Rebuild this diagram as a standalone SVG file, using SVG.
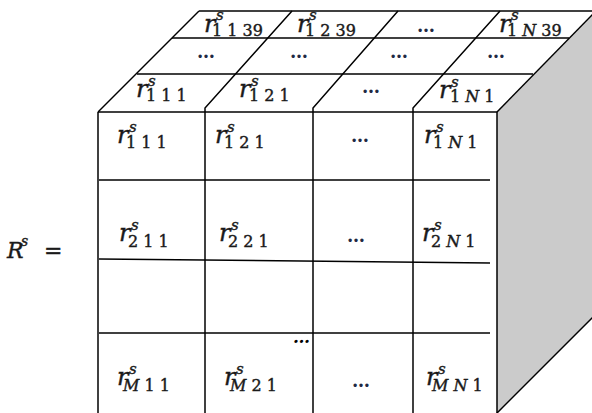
<svg xmlns="http://www.w3.org/2000/svg" width="592" height="413" viewBox="0 0 592 413">
<style>
.ln{stroke:#000;stroke-width:1.5;fill:none}
.r{font-family:"DejaVu Serif",serif;font-style:italic;font-size:24px;fill:#1a1a1a;stroke:#1a1a1a;stroke-width:0.4}
.s{font-family:"DejaVu Serif",serif;font-style:italic;font-size:15px;fill:#1a1a1a;stroke:#1a1a1a;stroke-width:0.4}
.sb{font-family:"DejaVu Serif",serif;font-size:16px;fill:#1a1a1a;stroke:#1a1a1a;stroke-width:0.4}
.i{font-style:italic}
.d{font-family:"DejaVu Serif",serif;font-size:18px;font-weight:bold;fill:#1f2a44}
</style>
<rect width="592" height="413" fill="#fff"/>
<g id="side-face">
<polygon points="497,112 593,14 593,318 497,413" fill="#cbcbcb"/>
<line class="ln" x1="497" y1="413" x2="593" y2="317"/>
</g>
<g id="connectors">
<line class="ln" x1="199" y1="11" x2="592" y2="11"/>
<line class="ln" x1="172" y1="38" x2="569" y2="38"/>
<line class="ln" x1="137" y1="74" x2="533" y2="74"/>
<line class="ln" x1="98" y1="112" x2="497" y2="112"/>
<line class="ln" x1="98" y1="112" x2="199" y2="11"/>
<line class="ln" x1="497" y1="112" x2="594" y2="13"/>
<path class="ln" d="M205 112 L205 108 L292 11"/>
<path class="ln" d="M313 112 L313 108 L398 11"/>
<path class="ln" d="M413 112 L413 108 L500 11"/>
<line class="ln" x1="98" y1="112" x2="98" y2="413"/>
<line class="ln" x1="205" y1="112" x2="205" y2="413"/>
<line class="ln" x1="313" y1="112" x2="313" y2="413"/>
<line class="ln" x1="413" y1="112" x2="413" y2="413"/>
<line class="ln" x1="497" y1="112" x2="497" y2="413"/>
<line class="ln" x1="99" y1="180" x2="490" y2="180"/>
<line class="ln" x1="99" y1="259" x2="490" y2="263"/>
<line class="ln" x1="99" y1="333" x2="490" y2="333"/>
</g>
<g id="label-R">
<text x="7" y="258" class="r" style="font-size:22px">R</text>
<text x="21" y="246" class="s" style="font-size:14px">s</text>
<text x="44" y="258" class="sb" style="font-size:22px">=</text>
</g>
<g id="top-r1139"><text class="r" x="204" y="32">r</text><text class="s" x="216" y="20">s</text><text class="sb" x="212" y="36">1 1 39</text></g>
<g id="top-r1239"><text class="r" x="297" y="32">r</text><text class="s" x="309" y="20">s</text><text class="sb" x="305" y="36">1 2 39</text></g>
<g id="top-dots1"><text class="d" x="417" y="32">…</text></g>
<g id="top-r1N39"><text class="r" x="499" y="32">r</text><text class="s" x="511" y="20">s</text><text class="sb" x="507" y="36">1 <tspan class="i">N</tspan> 39</text></g>
<g id="top-dots2"><text class="d" x="197" y="58">…</text></g>
<g id="top-dots3"><text class="d" x="290" y="58">…</text></g>
<g id="top-dots4"><text class="d" x="390" y="58">…</text></g>
<g id="top-dots5"><text class="d" x="487" y="58">…</text></g>
<g id="top-r111"><text class="r" x="136" y="97">r</text><text class="s" x="148" y="86">s</text><text class="sb" x="146" y="101">1 1 1</text></g>
<g id="top-r121"><text class="r" x="239" y="97">r</text><text class="s" x="251" y="86">s</text><text class="sb" x="249" y="101">1 2 1</text></g>
<g id="top-dots6"><text class="d" x="362" y="93">…</text></g>
<g id="top-r1N1"><text class="r" x="439" y="98">r</text><text class="s" x="451" y="87">s</text><text class="sb" x="450" y="102">1 <tspan class="i">N</tspan> 1</text></g>
<g id="cell-r111"><text class="r" x="117" y="143">r</text><text class="s" x="129" y="132">s</text><text class="sb" x="126" y="148">1 1 1</text></g>
<g id="cell-r121"><text class="r" x="215" y="143">r</text><text class="s" x="227" y="132">s</text><text class="sb" x="224" y="148">1 2 1</text></g>
<g id="cell-dots1"><text class="d" x="351" y="142">…</text></g>
<g id="cell-r1N1"><text class="r" x="424" y="143">r</text><text class="s" x="436" y="132">s</text><text class="sb" x="433" y="148">1 <tspan class="i">N</tspan> 1</text></g>
<g id="cell-r211"><text class="r" x="119" y="241">r</text><text class="s" x="131" y="230">s</text><text class="sb" x="128" y="247">2 1 1</text></g>
<g id="cell-r221"><text class="r" x="219" y="241">r</text><text class="s" x="231" y="230">s</text><text class="sb" x="228" y="247">2 2 1</text></g>
<g id="cell-dots2"><text class="d" x="347" y="242">…</text></g>
<g id="cell-r2N1"><text class="r" x="422" y="241">r</text><text class="s" x="434" y="230">s</text><text class="sb" x="431" y="247">2 <tspan class="i">N</tspan> 1</text></g>
<g id="cell-dots-black"><text class="d" x="293" y="343" style="fill:#000;font-style:italic;font-size:17px">…</text></g>
<g id="cell-rM11"><text class="r" x="117" y="385">r</text><text class="s" x="129" y="374">s</text><text class="sb" x="123" y="391"><tspan class="i">M</tspan> 1 1</text></g>
<g id="cell-rM21"><text class="r" x="224" y="385">r</text><text class="s" x="236" y="374">s</text><text class="sb" x="230" y="391"><tspan class="i">M</tspan> 2 1</text></g>
<g id="cell-dots3"><text class="d" x="352" y="387">…</text></g>
<g id="cell-rMN1"><text class="r" x="426" y="385">r</text><text class="s" x="438" y="374">s</text><text class="sb" x="432" y="391"><tspan class="i">M</tspan> <tspan class="i">N</tspan> 1</text></g>
</svg>
